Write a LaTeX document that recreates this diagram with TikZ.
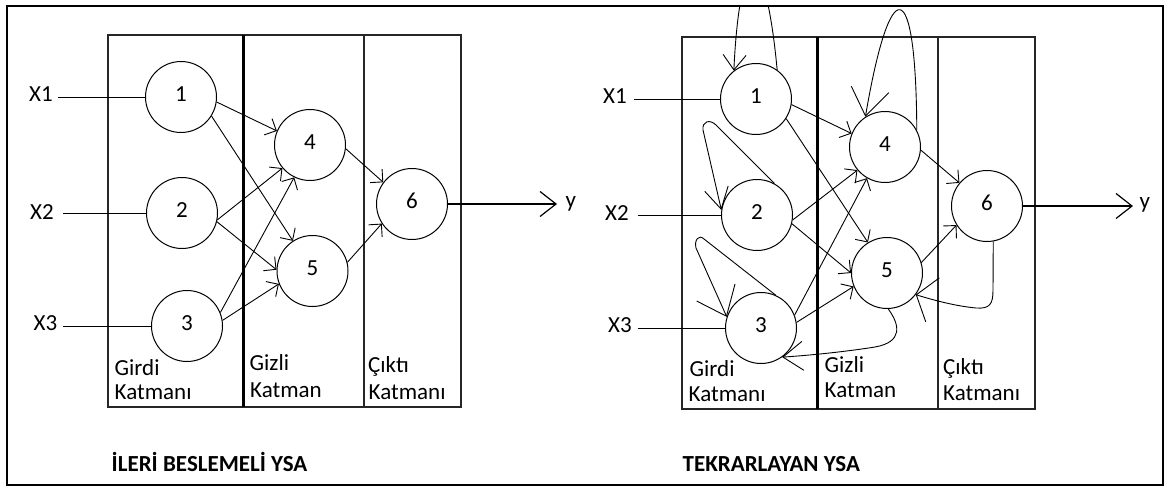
\documentclass[tikz,border=0pt]{standalone}
\usepackage{fontspec}
\setmainfont{Carlito}
\usetikzlibrary{arrows.meta}
\begin{document}
\begin{tikzpicture}[x=1pt,y=-1pt,
  txt/.style={inner sep=0pt, font=\fontsize{23}{25}\selectfont, text=black},
  ttl/.style={inner sep=0pt, font=\fontsize{23}{25}\selectfont\bfseries, text=black},
  neuron/.style={circle, draw=black, line width=1pt, minimum size=71pt, inner sep=0pt,
                 text height=14.5pt, text depth=5pt, font=\fontsize{23}{25}\selectfont},
  outerframe/.style={draw=black, line width=2pt},
  layerbox/.style={draw=black!85, line width=1.5pt},
  thickdiv/.style={draw=black, line width=3pt},
  thindiv/.style={draw=black!85, line width=1.3pt},
  wire/.style={draw=black, line width=1pt},
  arr/.style={draw=black, line width=0.9pt, -{Straight Barb[length=9pt,width=18pt]}},
  outarr/.style={draw=black, line width=1.2pt, -{Straight Barb[length=16pt,width=25pt]}},
  bigarr/.style 2 args={draw=black, line width=0.9pt, -{Straight Barb[length=#1,width=#2]}},
]
\fill[white] (0,0) rectangle (1165,487);
\useasboundingbox (0,0) rectangle (1165,487);

% ---------------- left panel: feed-forward ----------------
\draw[layerbox] (108,35) rectangle (461,407);
\draw[thickdiv] (243,35) -- (243,407);
\draw[thindiv] (364,35) -- (364,407);

\node[neuron] (a1) at (181,97) {1};
\node[neuron] (a2) at (182,213) {2};
\node[neuron] (a3) at (187,326) {3};
\node[neuron] (a4) at (310,145) {4};
\node[neuron] (a5) at (312.5,271) {5};
\node[neuron] (a6) at (412,204) {6};

\node[txt, anchor=base east] (xa1) at (53,101.5) {X1};
\node[txt, anchor=base east] (xa2) at (54,219.5) {X2};
\node[txt, anchor=base east] (xa3) at (57.5,330.5) {X3};
\coordinate (ai1) at (58,97);
\coordinate (ai2) at (63,213);
\coordinate (ai3) at (63,326);
\draw[wire] (ai1) -- (a1.west);
\draw[wire] (ai2) -- (a2.west);
\draw[wire] (ai3) -- (a3.west);

\draw[arr] (a1.-8) -- (a4.157);
\draw[arr] (a1.-32) -- (a5.123);
\draw[arr] (a2.-11) -- (a4.220);
\draw[arr] (a2.-14) -- (a5.178);
\draw[arr] (a3.22) -- (a4.244);
\draw[arr] (a3.9) -- (a5.201);
\draw[arr] (a4.-6) -- (a6.143);
\draw[arr] (a5.14) -- (a6.213);

\coordinate (ya) at (557,204);
\draw[outarr] (a6.east) -- (ya);
\node[txt, anchor=base west] (yla) at (565.5,207) {y};

\node[txt, anchor=base west] (la1) at (114.5,375) {Girdi};
\node[txt, anchor=base west] (la2) at (114.5,399) {Katmanı};
\node[txt, anchor=base west] (la3) at (249.5,370) {Gizli};
\node[txt, anchor=base west] (la4) at (250,397) {Katman};
\node[txt, anchor=base west] (la5) at (368,372) {Çıktı};
\node[txt, anchor=base west] (la6) at (368.5,399) {Katmanı};

\node[ttl, anchor=base west] (ta) at (111.5,471.5) {İLERİ BESLEMELİ YSA};

% ---------------- right panel: recurrent ----------------
\draw[layerbox] (682,37) rectangle (1035,409);
\draw[thickdiv] (817,37) -- (817,409);
\draw[thindiv] (938,37) -- (938,409);

\node[neuron] (b1) at (756,99) {1};
\node[neuron] (b2) at (757,215) {2};
\node[neuron] (b3) at (761,328) {3};
\node[neuron] (b4) at (885,147) {4};
\node[neuron] (b5) at (887,273) {5};
\node[neuron] (b6) at (987,206) {6};

\node[txt, anchor=base east] (xb1) at (627,103) {X1};
\node[txt, anchor=base east] (xb2) at (629,220) {X2};
\node[txt, anchor=base east] (xb3) at (632,332) {X3};
\coordinate (bi1) at (634,99);
\coordinate (bi2) at (638,215);
\coordinate (bi3) at (638,328);
\draw[wire] (bi1) -- (b1.west);
\draw[wire] (bi2) -- (b2.west);
\draw[wire] (bi3) -- (b3.west);

\draw[arr] (b1.-9) -- (b4.158);
\draw[arr] (b1.-33) -- (b5.122);
\draw[arr] (b2.-8) -- (b4.220);
\draw[arr] (b2.-14) -- (b5.180);
\draw[arr] (b3.21) -- (b4.240);
\draw[arr] (b3.9) -- (b5.202);
\draw[arr] (b4.-5) -- (b6.140);
\draw[arr] (b5.17) -- (b6.212);

% recurrent loops
\begin{scope}
  \clip (7,6) rectangle (1163,485);
  \draw[bigarr={15pt}{23pt}] (b1.54) .. controls (765,-60) and (740,-60) .. (b1.128);
\end{scope}
\draw[bigarr={27pt}{38pt}] (b4.28) .. controls (916,-28) and (890,-28) .. (b4.123);
\draw[bigarr={21pt}{24pt}] (b2.61) -- (716,125) .. controls (710,119) and (702,121) .. (703,130) -- (b2.172);
\draw[bigarr={26pt}{42pt}] (b3.66) -- (704,239) .. controls (699,234) and (694,240) .. (696,248) -- (b3.162);
\draw[bigarr={20pt}{29pt}] (b5.-88) .. controls (900,325) and (903,342) .. (875,347)
      .. controls (850,351) and (815,355) .. (b3.-54);
\draw[bigarr={17pt}{46pt}] (b6.-80) -- (993,290) .. controls (993,304) and (990,309) .. (976,308)
      .. controls (955,306) and (933,300) .. (b5.-37);

\coordinate (yb) at (1133,206);
\draw[outarr] (b6.east) -- (yb);
\node[txt, anchor=base west] (ylb) at (1139.5,208.5) {y};

\node[txt, anchor=base west] (lb1) at (689.5,376.5) {Girdi};
\node[txt, anchor=base west] (lb2) at (688.5,401.5) {Katmanı};
\node[txt, anchor=base west] (lb3) at (824.5,372) {Gizli};
\node[txt, anchor=base west] (lb4) at (824.5,397) {Katman};
\node[txt, anchor=base west] (lb5) at (943,374) {Çıktı};
\node[txt, anchor=base west] (lb6) at (943,400) {Katmanı};

\node[ttl, anchor=base west] (tb) at (682.5,471.5) {TEKRARLAYAN YSA};

% outer frame
\draw[outerframe] (7,6) rectangle (1163,485);
\end{tikzpicture}
\end{document}
